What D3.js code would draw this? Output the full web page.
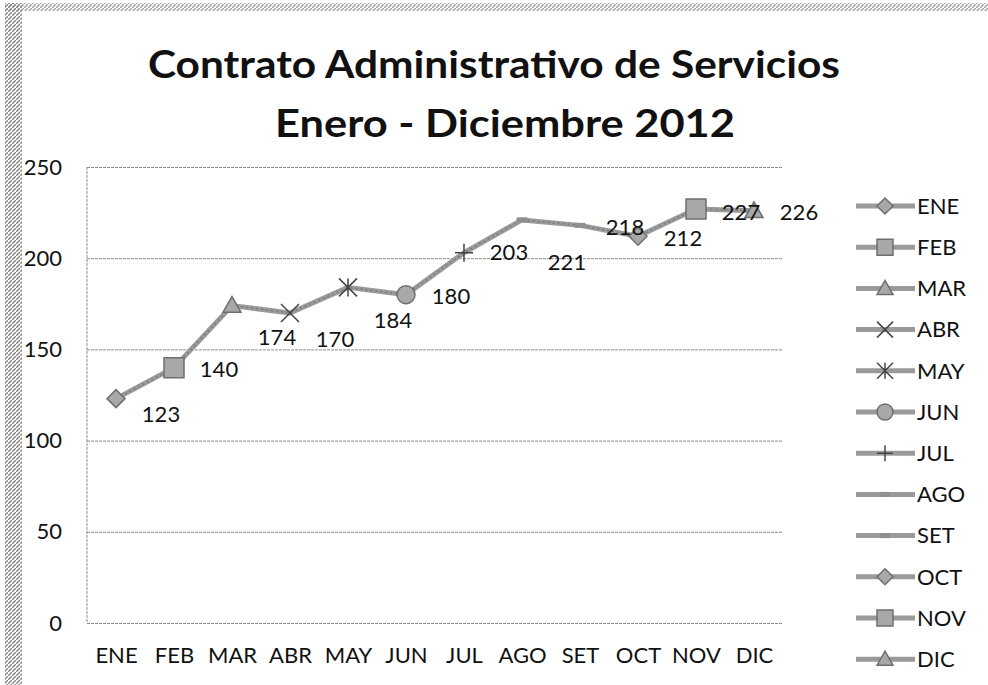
<!DOCTYPE html>
<html>
<head>
<meta charset="utf-8">
<script src="https://cdn.jsdelivr.net/npm/d3@7"></script>
<style>
  body { margin: 0; background: #fff; }
  text { font-family: Lato, "Open Sans", sans-serif; fill: #111; }
</style>
</head>
<body>
<script>

var months = ["ENE", "FEB", "MAR", "ABR", "MAY", "JUN", "JUL", "AGO", "SET", "OCT", "NOV", "DIC"];
var values = [123, 140, 174, 170, 184, 180, 203, 221, 218, 212, 227, 226];
var yTicks = [0, 50, 100, 150, 200, 250];
var markers = ["diamond", "square", "triangle", "x", "star", "circle", "plus", "dash", "dash", "diamond", "square", "triangle"];
// vertical nudge of each data label (the labels were moved by hand in the original)
var labelNudge = [16, 2, 32, 26, 33, 2, 0, 42, 2, 2, 3, 2];

var width = 988,
    height = 685,
    plot = {left: 87, right: 783, top: 167, bottom: 623};

var svg = d3.select("body").append("svg")
    .attr("width", width)
    .attr("height", height);

// scanned chart frame (hatched grey border)
var defs = svg.append("defs");
defs.append("pattern")
    .attr("id", "hatch")
    .attr("width", 4).attr("height", 4)
    .attr("patternUnits", "userSpaceOnUse")
  .append("path")
    .attr("d", "M0,4L4,0")
    .style("stroke", "#8a8a8a")
    .style("stroke-width", 1.5);

svg.append("rect")
    .attr("x", 5).attr("y", 3)
    .attr("width", 17).attr("height", height - 3)
    .style("fill", "url(#hatch)");
svg.append("rect")
    .attr("x", 5).attr("y", 3)
    .attr("width", width - 5).attr("height", 8)
    .style("fill", "url(#hatch)")
    .style("opacity", 0.8);

var x = d3.scalePoint()
    .domain(months)
    .range([plot.left, plot.right])
    .padding(0.5);

var y = d3.scaleLinear()
    .domain([0, 250])
    .range([plot.bottom, plot.top]);

// title
svg.append("text")
    .attr("x", 494).attr("y", 78)
    .attr("text-anchor", "middle")
    .attr("textLength", 692)
    .attr("lengthAdjust", "spacingAndGlyphs")
    .style("font-size", "38px").style("font-weight", "bold")
    .text("Contrato Administrativo de Servicios");
svg.append("text")
    .attr("x", 505).attr("y", 137)
    .attr("text-anchor", "middle")
    .attr("textLength", 460)
    .attr("lengthAdjust", "spacingAndGlyphs")
    .style("font-size", "38px").style("font-weight", "bold")
    .text("Enero - Diciembre 2012");

// gridlines and y labels
var yAxis = svg.append("g")
    .attr("transform", `translate(${plot.left},0)`)
    .call(d3.axisLeft(y)
      .tickValues(yTicks)
      .tickSize(-(plot.right - plot.left))
      .tickPadding(25));

yAxis.select(".domain").remove();
yAxis.selectAll(".tick line")
    .style("stroke", "#8c8c8c")
    .style("stroke-dasharray", "3,1");
yAxis.selectAll(".tick text")
    .style("font-size", "22px")
    .style("font-family", "Lato, sans-serif")
    .style("fill", "#111");

svg.append("line")
    .attr("x1", plot.left).attr("x2", plot.left)
    .attr("y1", plot.top).attr("y2", plot.bottom)
    .style("stroke", "#8c8c8c")
    .style("stroke-dasharray", "3,1");

// x labels
var xAxis = svg.append("g")
    .attr("transform", `translate(0,${plot.bottom})`)
    .call(d3.axisBottom(x).tickSize(0).tickPadding(24));

xAxis.select(".domain").remove();
xAxis.selectAll(".tick text")
    .style("font-size", "22px")
    .style("font-family", "Lato, sans-serif")
    .style("fill", "#111");

// marker shapes
function markerPath(type, r) {
  switch (type) {
    case "diamond": return `M0,${-r}L${r},0L0,${r}L${-r},0Z`;
    case "square": return `M${-r},${-r}H${r}V${r}H${-r}Z`;
    case "triangle": return `M0,${-r}L${r},${r * 0.75}L${-r},${r * 0.75}Z`;
    case "x": return `M${-r},${-r}L${r},${r}M${-r},${r}L${r},${-r}`;
    case "star": return `M${-r},${-r}L${r},${r}M${-r},${r}L${r},${-r}M0,${-r}V${r}`;
    case "circle": return `M${r},0A${r},${r} 0 1,1 ${-r},0A${r},${r} 0 1,1 ${r},0Z`;
    case "plus": return `M${-r},0H${r}M0,${-r}V${r}`;
    case "dash": return `M${-r * 0.6},0H${r * 0.6}`;
  }
}

var filled = (t) => ["diamond", "square", "triangle", "circle"].includes(t);

function drawMarker(g, type, r) {
  g.append("path")
      .attr("d", markerPath(type, r))
      .style("fill", filled(type) ? "#a8a8a8" : "none")
      .style("stroke", filled(type) ? "#6f6f6f" : (type == "dash" ? "#8f8f8f" : "#444"))
      .style("stroke-width", filled(type) ? 1.5 : (type == "dash" ? 5 : 1.5));
}

// the line through all months
var pts = months.map((m, i) => [x(m), y(values[i])]);

svg.append("path")
    .attr("d", d3.line()(pts))
    .style("fill", "none")
    .style("stroke", "#9a9a9a")
    .style("stroke-width", 5)
    .style("stroke-linejoin", "round");

svg.append("path")
    .attr("d", d3.line()(pts))
    .style("fill", "none")
    .style("stroke", "#7a7a7a")
    .style("stroke-width", 1.5)
    .style("stroke-dasharray", "2,3");

var point = svg.selectAll(".point")
    .data(months)
  .enter().append("g")
    .attr("class", "point")
    .attr("transform", (d, i) => `translate(${x(d)},${y(values[i])})`);

point.each(function(d, i) { drawMarker(d3.select(this), markers[i], markers[i] == "square" ? 10 : 9); });

// data labels
svg.selectAll(".label")
    .data(values)
  .enter().append("text")
    .attr("class", "label")
    .attr("x", (d, i) => x(months[i]) + 45)
    .attr("y", (d, i) => y(d) + labelNudge[i])
    .attr("dy", "0.35em")
    .attr("text-anchor", "middle")
    .style("font-size", "22px")
    .text((d) => d);

// legend
var legend = svg.selectAll(".legend")
    .data(months)
  .enter().append("g")
    .attr("class", "legend")
    .attr("transform", (d, i) => `translate(885,${206 + i * 41.2})`);

legend.append("line")
    .attr("x1", -29).attr("x2", 30)
    .style("stroke", "#9a9a9a")
    .style("stroke-width", 5);

legend.each(function(d, i) { drawMarker(d3.select(this), markers[i], 8); });

legend.append("text")
    .attr("x", 32)
    .attr("dy", "0.35em")
    .style("font-size", "22px")
    .text((d) => d);

</script>
</body>
</html>
